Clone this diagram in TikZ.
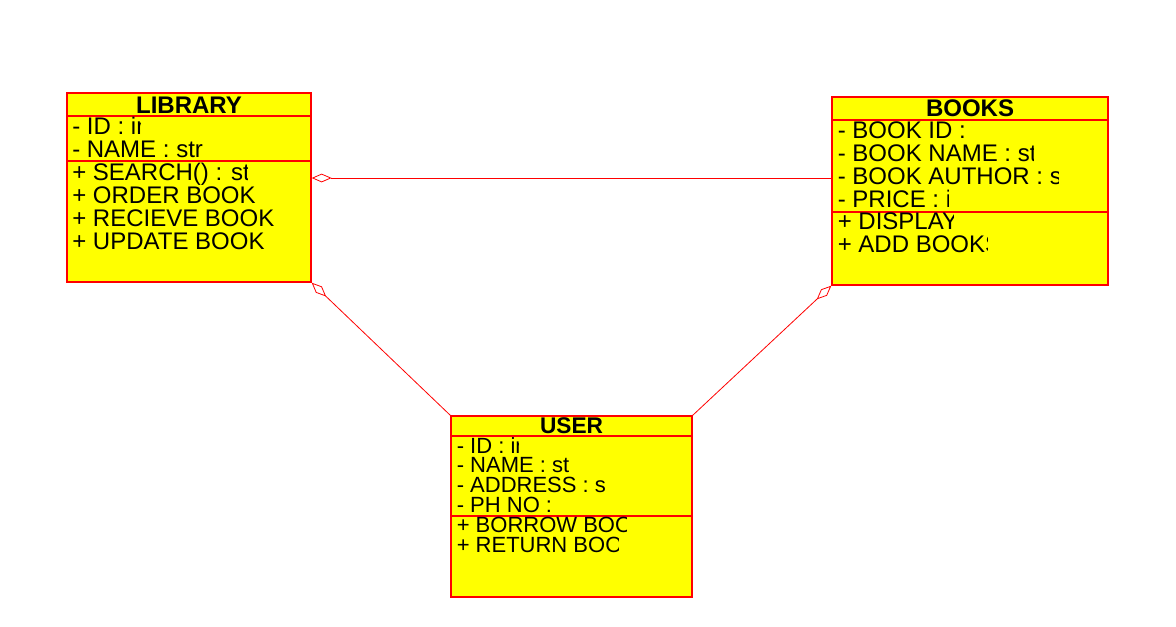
\documentclass[tikz,border=0pt]{standalone}
\usepackage{fontspec}
\setmainfont{Liberation Sans}
\usetikzlibrary{arrows.meta,fit}
\definecolor{clsfill}{RGB}{255,255,0}
\definecolor{clsline}{RGB}{255,0,0}
\tikzset{
	cls/.style={draw=clsline, fill=clsfill, line width=1pt, inner sep=0pt},
	sep/.style={draw=clsline, line width=1pt},
	agg/.style={draw=clsline, line width=0.6pt, -{Diamond[open,length=15pt,width=6.5pt]}},
	title/.style={font=\fontsize{18}{20}\selectfont\bfseries, anchor=base, inner sep=0pt},
	entry/.style={font=\fontsize{18}{20}\selectfont, anchor=base west, inner sep=0pt},
}
\begin{document}
\begin{tikzpicture}[x=0.75pt, y=-0.75pt]
	\useasboundingbox (0,0) rectangle (1176,626);
	% classes
	\node[cls, fit={(67,93) (311,282)}] (lib) {};
	\node[cls, fit={(832,97) (1108,285)}] (books) {};
	\node[cls, fit={(451,416) (692,597)}] (user) {};
	% compartments
	\draw[sep] (lib.west |- 0,116) -- (lib.east |- 0,116);
	\draw[sep] (lib.west |- 0,161) -- (lib.east |- 0,161);
	\draw[sep] (books.west |- 0,120) -- (books.east |- 0,120);
	\draw[sep] (books.west |- 0,212) -- (books.east |- 0,212);
	\draw[sep] (user.west |- 0,436) -- (user.east |- 0,436);
	\draw[sep] (user.west |- 0,516) -- (user.east |- 0,516);
	% titles
	\node[title] (lib-title) at (189,113) {LIBRARY};
	\node[title] (books-title) at (970,116) {BOOKS};
	\node[title, font=\fontsize{17}{19}\selectfont\bfseries] (user-title) at (571.5,433) {USER};
	% members
	\foreach \txt/\cx [count=\i] in {- ID : in/140, - NAME : stri/203, + SEARCH() : str/247,
		+ ORDER BOOK/305, + RECIEVE BOOK/305, + UPDATE BOOK/305} {
		\pgfmathsetmacro\yy{134+23*(\i-1)}
		\begin{scope}
			\clip (70,\yy-20) rectangle (\cx,\yy+6);
			\node[entry] (lib-\i) at (72,\yy) {\txt};
		\end{scope}
	}
	\foreach \txt/\cx [count=\i] in {- BOOK ID :/1100, - BOOK NAME : st/1033, - BOOK AUTHOR : s/1058,
		- PRICE : i/948, + DISPLAY/953, + ADD BOOKS/987} {
		\pgfmathsetmacro\yy{138.5+22.85*(\i-1)}
		\begin{scope}
			\clip (835,\yy-20) rectangle (\cx,\yy+6);
			\node[entry] (books-\i) at (837.5,\yy) {\txt};
		\end{scope}
	}
	\foreach \txt/\cx [count=\i] in {- ID : in/518, - NAME : st/685, - ADDRESS : s/607,
		- PH NO :/685, + BORROW BOO/626, + RETURN BOO/618} {
		\pgfmathsetmacro\yy{453+19.8*(\i-1)}
		\begin{scope}
			\clip (454,\yy-19) rectangle (\cx,\yy+5);
			\node[entry, font=\fontsize{16.5}{18}\selectfont] (user-\i) at (456.5,\yy) {\txt};
		\end{scope}
	}
	% aggregations
	\draw[agg] (books.west |- 0,178) -- (lib.east |- 0,178);
	\draw[agg] (user.north west) -- (lib.south east);
	\draw[agg] (user.north east) -- (books.south west);
\end{tikzpicture}
\end{document}
